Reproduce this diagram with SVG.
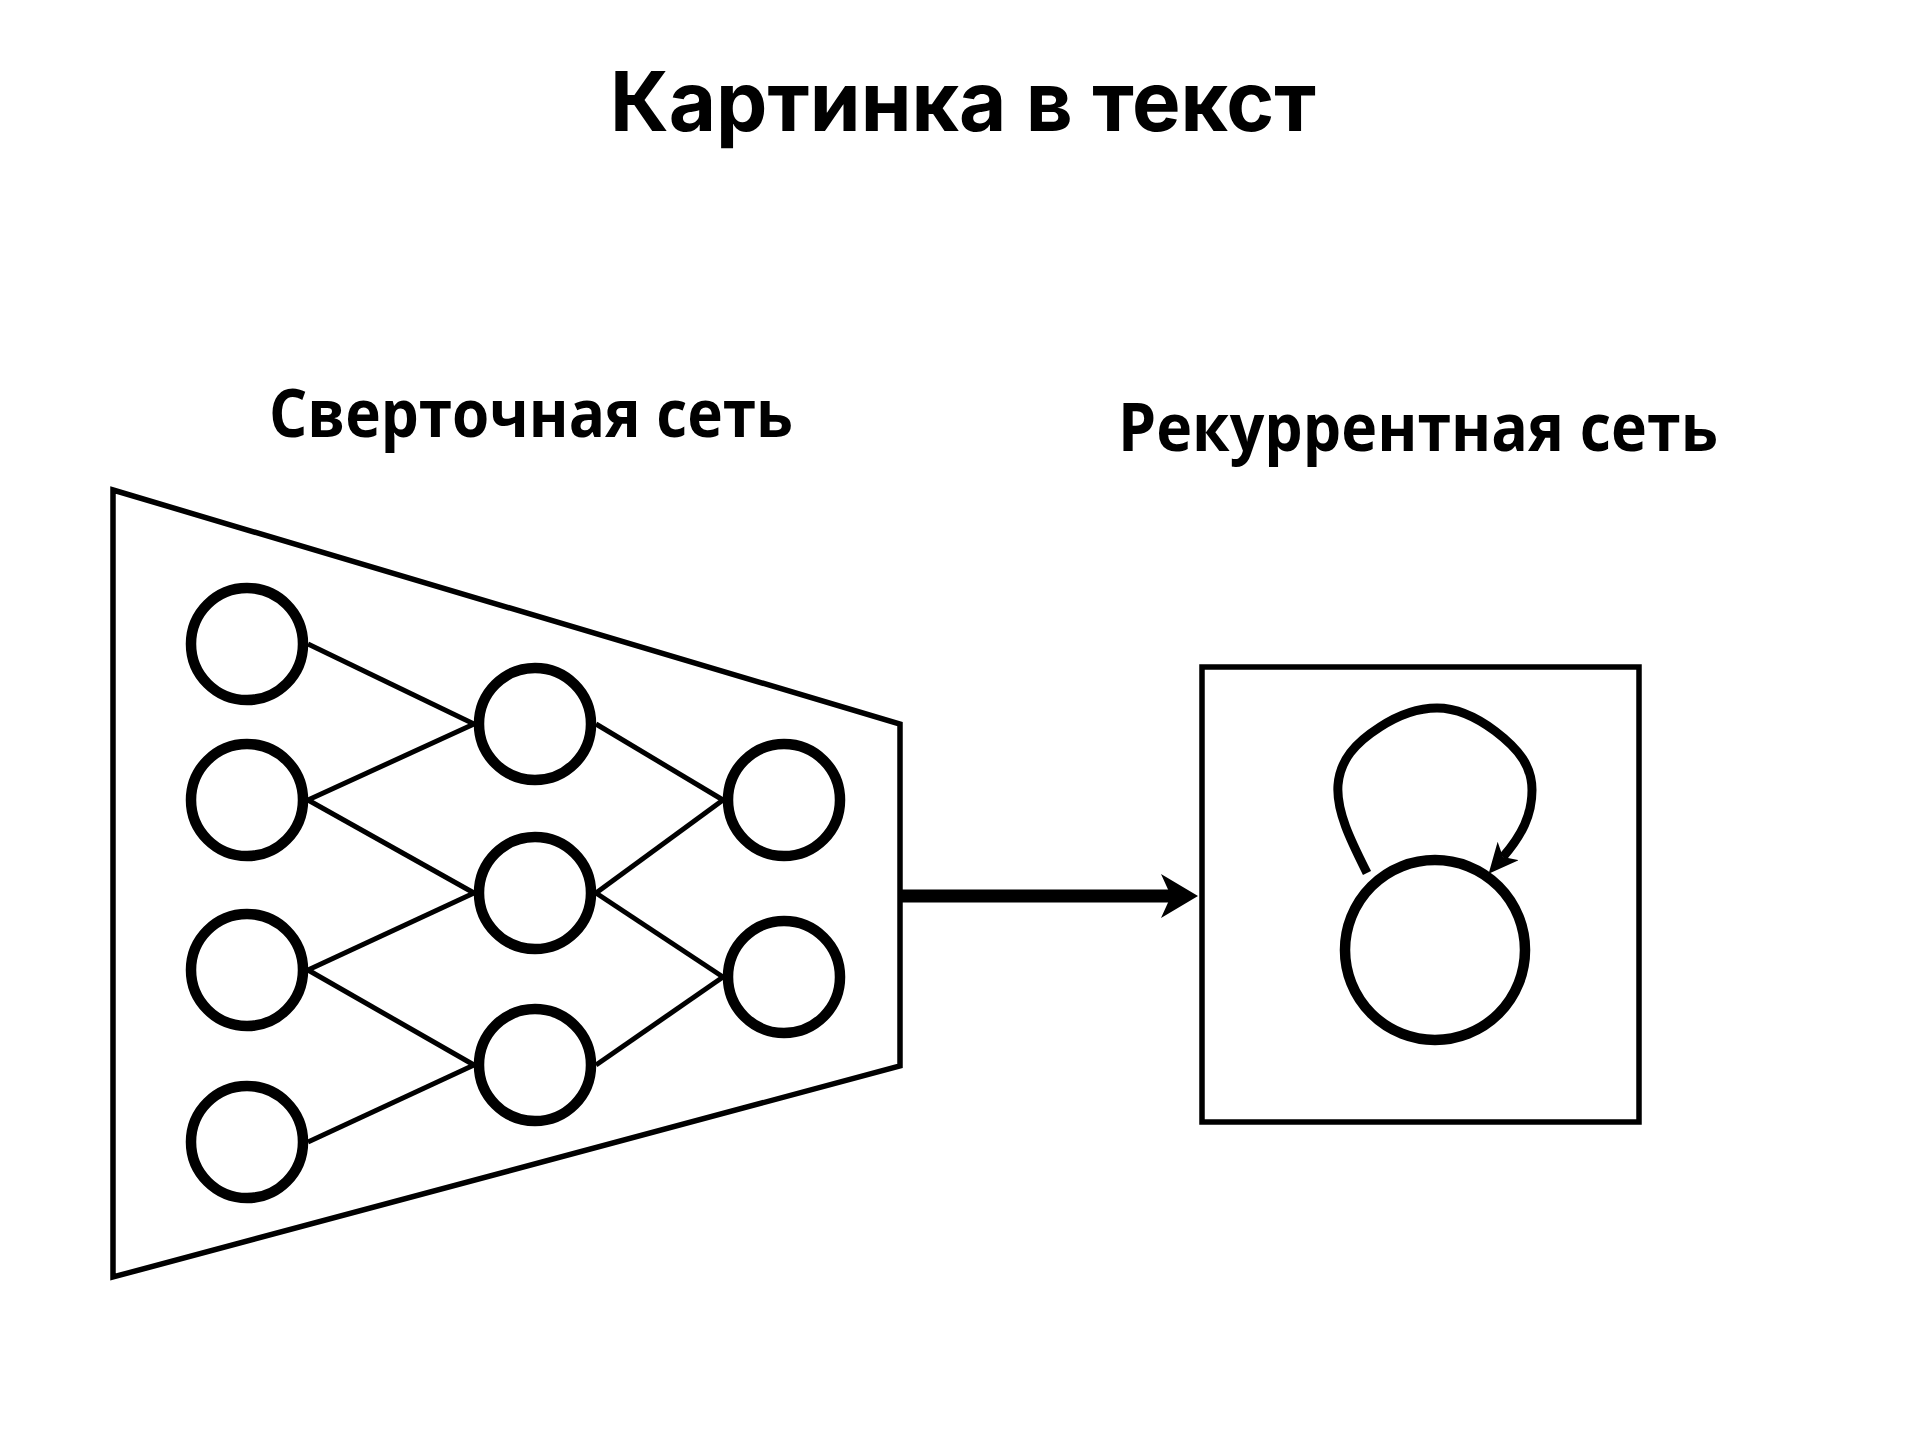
<svg xmlns="http://www.w3.org/2000/svg" width="1920" height="1440" viewBox="0 0 1920 1440">
<style>
.title{font-family:Inter,"Noto Sans",sans-serif;font-weight:700;font-size:83px;fill:#000}
.label{font-family:"Open Sans","Noto Sans",sans-serif;font-weight:700;font-size:66px;fill:#000}
.neuron{fill:#fff;stroke:#000;stroke-width:10.5}
.edge{stroke:#000;stroke-width:5;fill:none}
.frame{stroke:#000;stroke-width:5.5;fill:none;stroke-linejoin:miter}
</style>
<defs>
<marker id="bigHead" markerUnits="userSpaceOnUse" orient="auto" markerWidth="37" markerHeight="44" refX="10" refY="22" viewBox="0 0 37 44">
<path d="M0,0 L37,22 L0,44 L10,22 Z" fill="#000"/>
</marker>
<marker id="loopHead" markerUnits="userSpaceOnUse" orient="auto" markerWidth="30" markerHeight="28" refX="8" refY="14" viewBox="0 0 30 28">
<path d="M0,0 L30,14 L0,28 L8,14 Z" fill="#000"/>
</marker>
</defs>
<rect width="1920" height="1440" fill="#fff"/>
<text class="title" x="963" y="131" text-anchor="middle" textLength="706" lengthAdjust="spacingAndGlyphs">Картинка в текст</text>
<text class="label" x="531" y="437" text-anchor="middle" textLength="524" lengthAdjust="spacingAndGlyphs">Сверточная сеть</text>
<text class="label" x="1418" y="451" text-anchor="middle" textLength="600" lengthAdjust="spacingAndGlyphs">Рекуррентная сеть</text>

<g id="cnn-frame">
<polygon class="frame" points="113,490 900,724 900,1066 113,1277"/>
</g>
<g id="rnn-frame">
<rect class="frame" x="1202" y="667" width="437" height="455"/>
</g>

<g id="connectors">
<line class="edge" x1="308" y1="644" x2="474" y2="724"/>
<line class="edge" x1="308" y1="800" x2="474" y2="724"/>
<line class="edge" x1="308" y1="800" x2="474" y2="893"/>
<line class="edge" x1="308" y1="970" x2="474" y2="893"/>
<line class="edge" x1="308" y1="970" x2="474" y2="1065"/>
<line class="edge" x1="308" y1="1142" x2="474" y2="1065"/>
<line class="edge" x1="596" y1="724" x2="723" y2="800"/>
<line class="edge" x1="596" y1="893" x2="723" y2="800"/>
<line class="edge" x1="596" y1="893" x2="723" y2="977"/>
<line class="edge" x1="596" y1="1065" x2="723" y2="977"/>
<line x1="900" y1="896" x2="1171" y2="896" stroke="#000" stroke-width="13" marker-end="url(#bigHead)"/>
<path d="M1367,873 C1352,843 1336,812 1338,785 C1340,760 1355,743 1380,727 C1400,714 1420,708 1437,708 C1455,708 1475,716 1495,731 C1520,750 1532,767 1532,790 C1532,815 1522,835 1503,857" fill="none" stroke="#000" stroke-width="9" marker-end="url(#loopHead)"/>
</g>

<g id="n1-1"><circle class="neuron" cx="247" cy="644" r="56"/></g>
<g id="n1-2"><circle class="neuron" cx="247" cy="800" r="56"/></g>
<g id="n1-3"><circle class="neuron" cx="247" cy="970" r="56"/></g>
<g id="n1-4"><circle class="neuron" cx="247" cy="1142" r="56"/></g>
<g id="n2-1"><circle class="neuron" cx="535" cy="724" r="56"/></g>
<g id="n2-2"><circle class="neuron" cx="535" cy="893" r="56"/></g>
<g id="n2-3"><circle class="neuron" cx="535" cy="1065" r="56"/></g>
<g id="n3-1"><circle class="neuron" cx="784" cy="800" r="56"/></g>
<g id="n3-2"><circle class="neuron" cx="784" cy="977" r="56"/></g>
<g id="rnn-cell"><circle class="neuron" cx="1435" cy="950" r="90" stroke-width="11"/></g>
</svg>
